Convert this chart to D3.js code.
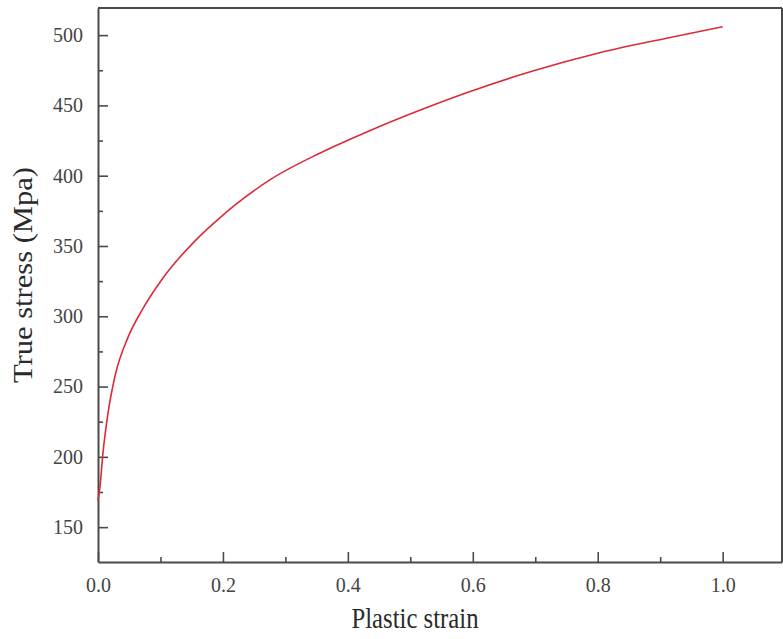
<!DOCTYPE html>
<html lang="en">
<head>
<meta charset="UTF-8">
<title>True stress vs plastic strain</title>
<style>
  body { margin: 0; background: #fff; }
  svg { display: block; }
</style>
</head>
<body>
<div id="chart"></div>
<script src="https://d3js.org/d3.v7.min.js"></script>
<script>
// values
const strain = [0, 0.003, 0.008, 0.016, 0.027, 0.048, 0.07, 0.102, 0.155, 0.195, 0.219, 0.275, 0.355, 0.435, 0.515, 0.59, 0.696, 0.803, 0.91, 1.0];
const stress = [169, 178, 203, 231, 257, 285, 304, 326, 353.5, 370, 379, 397, 416, 432, 446.5, 459, 474.5, 487.5, 497.8, 506];
const xTicks = [0, 0.2, 0.4, 0.6, 0.8, 1.0];
const yTicks = [150, 200, 250, 300, 350, 400, 450, 500];

const W = 783, H = 639;
const margin = {top: 8, right: 1, bottom: 77, left: 98};
const width = W - margin.left - margin.right;
const height = H - margin.top - margin.bottom;

const svg = d3.select("#chart").append("svg")
  .attr("width", W)
  .attr("height", H);

const x = d3.scaleLinear().domain([0, 1.095]).range([0, width]);
const y = d3.scaleLinear().domain([125.2, 519.3]).range([height, 0]);

const g = svg.append("g")
  .attr("transform", `translate(${margin.left},${margin.top})`);

const axisColor = "#4a4a4a";
const font = "'Liberation Serif', 'Times New Roman', serif";

// minor ticks (inward)
const xMinor = d3.range(0.1, 1.1, 0.2);
const yMinor = d3.range(175, 519, 50);

g.append("g")
  .attr("transform", `translate(0,${height})`)
  .call(d3.axisBottom(x).tickValues(xTicks).tickFormat(d3.format(".1f"))
    .tickSizeInner(-10).tickSizeOuter(0).tickPadding(16));

g.append("g")
  .call(d3.axisLeft(y).tickValues(yTicks).tickFormat(d3.format("d"))
    .tickSizeInner(-10).tickSizeOuter(0).tickPadding(15));

g.append("g")
  .attr("transform", `translate(0,${height})`)
  .call(d3.axisBottom(x).tickValues(xMinor).tickFormat("").tickSizeInner(-5).tickSizeOuter(0))
  .call(a => a.select(".domain").remove());

g.append("g")
  .call(d3.axisLeft(y).tickValues(yMinor).tickFormat("").tickSizeInner(-5).tickSizeOuter(0))
  .call(a => a.select(".domain").remove());

g.selectAll(".domain").attr("stroke", axisColor).attr("stroke-width", 2);
g.selectAll(".tick line").attr("stroke", axisColor).attr("stroke-width", 1.6);
g.selectAll(".tick text")
  .attr("fill", "#444")
  .style("font-family", font)
  .style("font-size", "20px");

// frame: top and right edges
g.append("line")
  .attr("x1", 0).attr("x2", width)
  .attr("y1", 0).attr("y2", 0)
  .attr("stroke", axisColor).attr("stroke-width", 2);
g.append("line")
  .attr("x1", width).attr("x2", width)
  .attr("y1", 0).attr("y2", height)
  .attr("stroke", axisColor).attr("stroke-width", 2);

// curve
const pts = strain.map((s, i) => [s, stress[i]]);
const line = d3.line()
  .x(d => x(d[0]))
  .y(d => y(d[1]))
  .curve(d3.curveMonotoneX);

g.append("path")
  .datum(pts)
  .attr("fill", "none")
  .attr("stroke", "#dc2a3a")
  .attr("stroke-width", 1.6)
  .attr("d", line);

// axis titles
svg.append("text")
  .attr("x", 415)
  .attr("y", 628)
  .attr("text-anchor", "middle")
  .attr("fill", "#2a2a2a")
  .attr("textLength", 127)
  .attr("lengthAdjust", "spacingAndGlyphs")
  .style("font-family", font)
  .style("font-size", "29px")
  .text("Plastic strain");

svg.append("text")
  .attr("transform", "translate(32,275) rotate(-90)")
  .attr("text-anchor", "middle")
  .attr("fill", "#2a2a2a")
  .attr("textLength", 216)
  .attr("lengthAdjust", "spacingAndGlyphs")
  .style("font-family", font)
  .style("font-size", "28px")
  .text("True stress (Mpa)");
</script>
</body>
</html>
